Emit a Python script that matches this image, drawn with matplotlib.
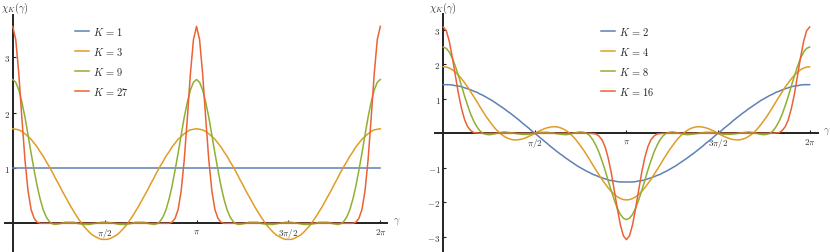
import numpy as np
import matplotlib
matplotlib.use("Agg")
import matplotlib.pyplot as plt
from matplotlib.lines import Line2D

plt.rcParams['mathtext.fontset'] = 'cm'

# ---------------- data (gamma step = 3 degrees) ----------------
gamma = np.linspace(0, 2 * np.pi, 121)
gamma_k1 = [0.0, 2 * np.pi]

left_labels = [1, 3, 9, 27]
right_labels = [2, 4, 8, 16]

chi_k1 = [1.0, 1.0]

chi_k3 = [1.71, 1.70, 1.69, 1.66, 1.62, 1.57, 1.52, 1.45, 1.38, 1.29, 1.21, 1.11, 1.02, 0.92, 0.81, 0.71,
          0.60, 0.50, 0.40, 0.30, 0.21, 0.12, 0.04, -0.04, -0.10, -0.16, -0.21, -0.24, -0.27, -0.29, -0.29,
          -0.29, -0.27, -0.24, -0.21, -0.16, -0.10, -0.04, 0.04, 0.12, 0.21, 0.30, 0.40, 0.50, 0.60, 0.71,
          0.81, 0.92, 1.02, 1.11, 1.21, 1.29, 1.38, 1.45, 1.52, 1.57, 1.62, 1.66, 1.69, 1.70, 1.71,
          1.70, 1.69, 1.66, 1.62, 1.57, 1.52, 1.45, 1.38, 1.29, 1.21, 1.11, 1.02, 0.92, 0.81, 0.71,
          0.60, 0.50, 0.40, 0.30, 0.21, 0.12, 0.04, -0.04, -0.10, -0.16, -0.21, -0.24, -0.27, -0.29, -0.29,
          -0.29, -0.27, -0.24, -0.21, -0.16, -0.10, -0.04, 0.04, 0.12, 0.21, 0.30, 0.40, 0.50, 0.60, 0.71,
          0.81, 0.92, 1.02, 1.11, 1.21, 1.29, 1.38, 1.45, 1.52, 1.57, 1.62, 1.66, 1.69, 1.70, 1.71]

chi_k9 = [2.60, 2.55, 2.41, 2.19, 1.92, 1.60, 1.27, 0.96, 0.67, 0.43, 0.24, 0.11, 0.03, -0.01, -0.02, -0.01,
          0.00, 0.02, 0.02, 0.02, 0.02, 0.00, -0.01, -0.02, -0.02, -0.02, -0.01, 0.00, 0.01, 0.02, 0.02,
          0.02, 0.01, 0.00, -0.01, -0.02, -0.02, -0.02, -0.01, 0.00, 0.02, 0.02, 0.02, 0.02, 0.00, -0.01,
          -0.02, -0.01, 0.03, 0.11, 0.24, 0.43, 0.67, 0.96, 1.27, 1.60, 1.92, 2.19, 2.41, 2.55, 2.60,
          2.55, 2.41, 2.19, 1.92, 1.60, 1.27, 0.96, 0.67, 0.43, 0.24, 0.11, 0.03, -0.01, -0.02, -0.01,
          0.00, 0.02, 0.02, 0.02, 0.02, 0.00, -0.01, -0.02, -0.02, -0.02, -0.01, 0.00, 0.01, 0.02, 0.02,
          0.02, 0.01, 0.00, -0.01, -0.02, -0.02, -0.02, -0.01, 0.00, 0.02, 0.02, 0.02, 0.02, 0.00, -0.01,
          -0.02, -0.01, 0.03, 0.11, 0.24, 0.43, 0.67, 0.96, 1.27, 1.60, 1.92, 2.19, 2.41, 2.55, 2.60]

chi_k27 = [3.56, 3.32, 2.70, 1.90, 1.15, 0.59, 0.25, 0.09, 0.02,
           0, 0, 0, 0, 0, 0, 0, 0, 0, 0, 0, 0, 0, 0, 0, 0, 0, 0, 0, 0, 0, 0,
           0, 0, 0, 0, 0, 0, 0, 0, 0, 0, 0, 0, 0, 0, 0, 0, 0, 0, 0, 0, 0,
           0.02, 0.09, 0.25, 0.59, 1.15, 1.90, 2.70, 3.32, 3.56,
           3.32, 2.70, 1.90, 1.15, 0.59, 0.25, 0.09, 0.02,
           0, 0, 0, 0, 0, 0, 0, 0, 0, 0, 0, 0, 0, 0, 0, 0, 0, 0, 0, 0, 0, 0,
           0, 0, 0, 0, 0, 0, 0, 0, 0, 0, 0, 0, 0, 0, 0, 0, 0, 0, 0, 0, 0,
           0.02, 0.09, 0.25, 0.59, 1.15, 1.90, 2.70, 3.32, 3.56]

chi_k2 = [1.41, 1.41, 1.41, 1.40, 1.38, 1.37, 1.35, 1.32, 1.29, 1.26, 1.22, 1.19, 1.14, 1.10, 1.05, 1.00,
          0.95, 0.89, 0.83, 0.77, 0.71, 0.64, 0.58, 0.51, 0.44, 0.37, 0.29, 0.22, 0.15, 0.07, 0.00,
          -0.07, -0.15, -0.22, -0.29, -0.37, -0.44, -0.51, -0.58, -0.64, -0.71, -0.77, -0.83, -0.89, -0.95,
          -1.00, -1.05, -1.10, -1.14, -1.19, -1.22, -1.26, -1.29, -1.32, -1.35, -1.37, -1.38, -1.40, -1.41,
          -1.41, -1.41,
          -1.41, -1.41, -1.40, -1.38, -1.37, -1.35, -1.32, -1.29, -1.26, -1.22, -1.19, -1.14, -1.10, -1.05,
          -1.00, -0.95, -0.89, -0.83, -0.77, -0.71, -0.64, -0.58, -0.51, -0.44, -0.37, -0.29, -0.22, -0.15,
          -0.07, 0.00,
          0.07, 0.15, 0.22, 0.29, 0.37, 0.44, 0.51, 0.58, 0.64, 0.71, 0.77, 0.83, 0.89, 0.95, 1.00, 1.05,
          1.10, 1.14, 1.19, 1.22, 1.26, 1.29, 1.32, 1.35, 1.37, 1.38, 1.40, 1.41, 1.41, 1.41]

chi_k4 = [1.93, 1.92, 1.89, 1.84, 1.77, 1.68, 1.58, 1.46, 1.34, 1.20, 1.06, 0.92, 0.77, 0.63, 0.49, 0.37,
          0.25, 0.14, 0.05, -0.03, -0.09, -0.14, -0.17, -0.19, -0.19, -0.18, -0.16, -0.13, -0.09, -0.05, 0.00,
          0.05, 0.09, 0.13, 0.16, 0.18, 0.19, 0.19, 0.17, 0.14, 0.09, 0.03, -0.05, -0.14, -0.25, -0.37,
          -0.49, -0.63, -0.77, -0.92, -1.06, -1.20, -1.34, -1.46, -1.58, -1.68, -1.77, -1.84, -1.89, -1.92, -1.93,
          -1.92, -1.89, -1.84, -1.77, -1.68, -1.58, -1.46, -1.34, -1.20, -1.06, -0.92, -0.77, -0.63, -0.49,
          -0.37, -0.25, -0.14, -0.05, 0.03, 0.09, 0.14, 0.17, 0.19, 0.19, 0.18, 0.16, 0.13, 0.09, 0.05, 0.00,
          -0.05, -0.09, -0.13, -0.16, -0.18, -0.19, -0.19, -0.17, -0.14, -0.09, -0.03, 0.05, 0.14, 0.25, 0.37,
          0.49, 0.63, 0.77, 0.92, 1.06, 1.20, 1.34, 1.46, 1.58, 1.68, 1.77, 1.84, 1.89, 1.92, 1.93]

chi_k8 = [2.50, 2.46, 2.35, 2.17, 1.93, 1.66, 1.37, 1.07, 0.80, 0.55, 0.35, 0.19, 0.07, 0.00, -0.03, -0.04,
          -0.03, -0.01, 0.01, 0.03, 0.04, 0.03, 0.02, 0.01, -0.01, -0.02, -0.03, -0.03, -0.03, -0.01, 0.00,
          0.01, 0.03, 0.03, 0.03, 0.02, 0.01, -0.01, -0.02, -0.03, -0.04, -0.03, -0.01, 0.01, 0.03, 0.04,
          0.03, 0.00, -0.07, -0.19, -0.35, -0.55, -0.80, -1.07, -1.37, -1.66, -1.93, -2.17, -2.35, -2.46, -2.50,
          -2.46, -2.35, -2.17, -1.93, -1.66, -1.37, -1.07, -0.80, -0.55, -0.35, -0.19, -0.07, 0.00, 0.03, 0.04,
          0.03, 0.01, -0.01, -0.03, -0.04, -0.03, -0.02, -0.01, 0.01, 0.02, 0.03, 0.03, 0.03, 0.01, 0.00,
          -0.01, -0.03, -0.03, -0.03, -0.02, -0.01, 0.01, 0.02, 0.03, 0.04, 0.03, 0.01, -0.01, -0.03, -0.04,
          -0.03, 0.00, 0.07, 0.19, 0.35, 0.55, 0.80, 1.07, 1.37, 1.66, 1.93, 2.17, 2.35, 2.46, 2.50]

chi_k16 = [3.08, 2.97, 2.65, 2.18, 1.65, 1.13, 0.71, 0.39, 0.19, 0.08, 0.02, 0.01,
           0, 0, 0, 0, 0, 0, 0, 0, 0, 0, 0, 0, 0, 0, 0, 0, 0, 0, 0,
           0, 0, 0, 0, 0, 0, 0, 0, 0, 0, 0, 0, 0, 0, 0, 0, 0, 0,
           -0.01, -0.02, -0.08, -0.19, -0.39, -0.71, -1.13, -1.65, -2.18, -2.65, -2.97, -3.08,
           -2.97, -2.65, -2.18, -1.65, -1.13, -0.71, -0.39, -0.19, -0.08, -0.02, -0.01,
           0, 0, 0, 0, 0, 0, 0, 0, 0, 0, 0, 0, 0, 0, 0, 0, 0, 0, 0,
           0, 0, 0, 0, 0, 0, 0, 0, 0, 0, 0, 0, 0, 0, 0, 0, 0, 0,
           0.01, 0.02, 0.08, 0.19, 0.39, 0.71, 1.13, 1.65, 2.18, 2.65, 2.97, 3.08]

for arr in (chi_k3, chi_k9, chi_k27, chi_k2, chi_k4, chi_k8, chi_k16):
    assert len(arr) == 121, len(arr)

xtick_pos = [np.pi / 2, np.pi, 3 * np.pi / 2, 2 * np.pi]
xtick_labels = [r'$\pi/2$', r'$\pi$', r'$3\pi/2$', r'$2\pi$']
left_yticks = [1, 2, 3]
right_yticks = [-3, -2, -1, 1, 2, 3]

# ---------------- drawing ----------------
W, H = 830, 253
fig = plt.figure(figsize=(8.3, 2.53), dpi=100)
COLS = ['#5E81B5', '#E19C24', '#8FB032', '#EB6235']
AXC = '#222222'


def make_axes(px0, px1, py_top, py_bot, xlim, ylim):
    ax = fig.add_axes([px0 / W, (H - py_bot) / H, (px1 - px0) / W, (py_bot - py_top) / H])
    ax.set_xlim(*xlim)
    ax.set_ylim(*ylim)
    for s in ['top', 'right']:
        ax.spines[s].set_visible(False)
    ax.spines['left'].set_position(('data', 0))
    ax.spines['bottom'].set_position(('data', 0))
    for s in ['left', 'bottom']:
        ax.spines[s].set_color(AXC)
        ax.spines[s].set_linewidth(1.4)
        ax.spines[s].set_zorder(1)
    ax.patch.set_visible(False)
    ax.tick_params(direction='in', length=2.2, width=0.8, color=AXC,
                   labelsize=6.5, labelcolor='#333333', pad=2)
    ax.set_xticks(xtick_pos)
    ax.set_xticklabels(xtick_labels)
    return ax


axL = make_axes(5, 387, 16, 252, (-0.1316, 6.397), (-0.50, 3.766))
axL.plot(gamma_k1, chi_k1, color=COLS[0], lw=1.1, zorder=3)
for i, arr in enumerate([chi_k3, chi_k9, chi_k27]):
    axL.plot(gamma, arr, color=COLS[i + 1], lw=1.1, zorder=3)
axL.set_yticks(left_yticks)
axL.set_yticklabels([r'$%d$' % v for v in left_yticks])

axR = make_axes(435, 818, 15, 252, (-0.1423, 6.427), (-3.41, 3.458))
for i, arr in enumerate([chi_k2, chi_k4, chi_k8, chi_k16]):
    axR.plot(gamma, arr, color=COLS[i], lw=1.1, zorder=3)
axR.set_yticks(right_yticks)
axR.set_yticklabels([r'$%d$' % v for v in right_yticks])


def ftext(x, y, s, **kw):
    fig.text(x / W, (H - y) / H, s, **kw)


ftext(15, 8, r'$\chi_K(\gamma)$', fontsize=7.5, ha='center', va='center', color='#333333')
ftext(443, 8, r'$\chi_K(\gamma)$', fontsize=7.5, ha='center', va='center', color='#333333')
ftext(393, 222, r'$\gamma$', fontsize=7.5, ha='left', va='center', color='#666666')
ftext(823, 132, r'$\gamma$', fontsize=7.5, ha='left', va='center', color='#666666')

rows = [32.3, 52.3, 72.3, 91.7]
for labels, x0, x1, xt in [(left_labels, 75, 89.3, 93.3), (right_labels, 600.7, 615, 619.3)]:
    for i, K in enumerate(labels):
        y = (H - rows[i]) / H
        fig.add_artist(Line2D([x0 / W, x1 / W], [y, y], color=COLS[i], lw=1.1))
        ftext(xt, rows[i], r'$K\,=\,%d$' % K, fontsize=7.5, ha='left', va='center', color='#222222')

fig.savefig("out.png")
